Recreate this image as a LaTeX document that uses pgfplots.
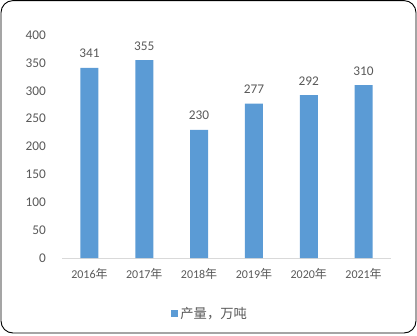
\documentclass[border=0pt]{standalone}
\usepackage{pgfplots}
\pgfplotsset{compat=1.18}
\usepackage{fontspec}
\setmainfont{Carlito}
\newfontfamily\cjk{Noto Sans CJK SC}
\definecolor{barblue}{HTML}{5B9BD5}
\definecolor{txt}{HTML}{595959}
\definecolor{axgray}{HTML}{D9D9D9}
\begin{document}
\begin{tikzpicture}[x=1bp,y=1bp]
\path (0,0) rectangle (417,336);
\draw[line width=0.9bp, rounded corners=12bp, black] (1,3) rectangle (416,335.4);
\begin{axis}[
  at={(62bp,78bp)}, anchor=south west,
  scale only axis, width=329bp, height=223bp,
  ybar, bar width=18bp,
  xmin=-0.5, xmax=5.5, ymin=0, ymax=400,
  ytick={0,50,...,400},
  xtick=data,
  xticklabels={2016{\cjk 年},2017{\cjk 年},2018{\cjk 年},2019{\cjk 年},2020{\cjk 年},2021{\cjk 年}},
  major tick length=0pt,
  axis x line*=bottom, axis y line*=left,
  x axis line style={-, axgray, line width=0.9bp},
  y axis line style={draw=none},
  /pgf/number format/assume math mode=true,
  yticklabel style={font=\fontsize{13.3bp}{15bp}\selectfont, text=txt, anchor=east, inner sep=0pt, xshift=-16bp},
  xticklabel style={font=\fontsize{12bp}{14bp}\selectfont, text=txt, anchor=base, inner sep=0pt, yshift=-20.5bp},
  nodes near coords,
  nodes near coords style={font=\fontsize{13.3bp}{15bp}\selectfont, text=txt, anchor=base, inner sep=0pt, yshift=10bp},
  legend style={draw=none, at={(0.45,-0.251)}, anchor=center, font=\fontsize{13.3bp}{15bp}\selectfont\cjk, text=txt, inner sep=0pt},
  legend image code/.code={\fill[barblue] (0bp,-3.5bp) rectangle (7.3bp,3.8bp);},
]
\addplot[fill=barblue, draw=none] coordinates {(0,341) (1,355) (2,230) (3,277) (4,292) (5,310)};
\addlegendentry{产量，万吨}
\end{axis}
\end{tikzpicture}
\end{document}
